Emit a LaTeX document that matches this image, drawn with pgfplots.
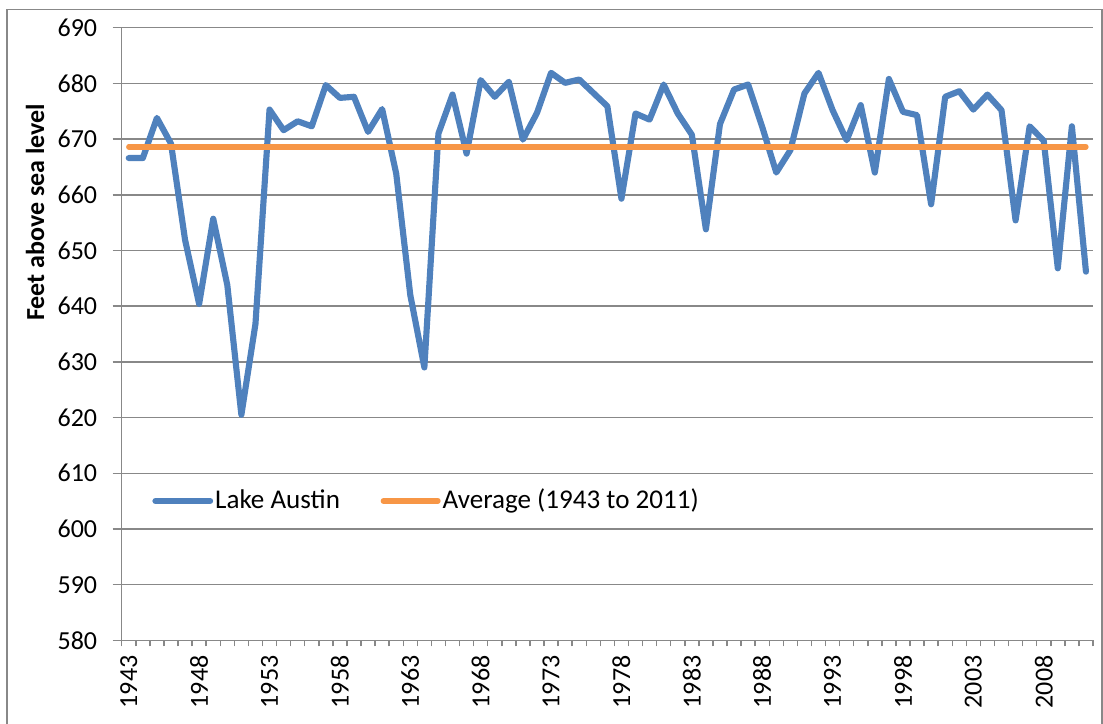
\documentclass[border=0pt]{standalone}
\usepackage{pgfplots}
\pgfplotsset{compat=1.18}
\usepackage{pgfplotstable}
\usepackage{fontspec}
\setmainfont{Carlito}

\definecolor{lakeblue}{HTML}{4F81BD}
\definecolor{avgorange}{HTML}{F79646}
\definecolor{gridgray}{HTML}{888888}

% Lake Austin yearly level, feet above sea level
\pgfplotstableread{
year level
1943 666.6
1944 666.6
1945 673.8
1946 669.2
1947 651.9
1948 640.4
1949 655.7
1950 643.8
1951 620.5
1952 636.8
1953 675.3
1954 671.6
1955 673.2
1956 672.3
1957 679.7
1958 677.4
1959 677.6
1960 671.3
1961 675.4
1962 663.8
1963 642.0
1964 629.0
1965 671.0
1966 678.0
1967 667.4
1968 680.6
1969 677.6
1970 680.3
1971 669.9
1972 674.7
1973 681.9
1974 680.1
1975 680.7
1976 678.3
1977 675.9
1978 659.3
1979 674.6
1980 673.5
1981 679.8
1982 674.6
1983 670.8
1984 653.8
1985 672.7
1986 678.9
1987 679.8
1988 672.2
1989 664.0
1990 668.0
1991 678.2
1992 681.9
1993 675.2
1994 669.8
1995 676.1
1996 664.0
1997 680.8
1998 674.9
1999 674.3
2000 658.3
2001 677.6
2002 678.6
2003 675.3
2004 678.0
2005 675.2
2006 655.4
2007 672.3
2008 669.7
2009 646.8
2010 672.3
2011 646.2
}\lakedata

\pgfplotstableread{
year level
1943 668.6
2011 668.6
}\avgdata

\begin{document}
\fontsize{19.5}{23}\selectfont
\begin{tikzpicture}
\useasboundingbox (-91.3pt,-62pt) rectangle (736pt,480.3pt);
% chart area border
\draw[gridgray, line width=1pt] (-86pt,-70pt) -- (-86pt,473.3pt) -- (735.2pt,473.3pt) -- (735.2pt,-70pt);
\begin{axis}[
    at={(0,0)}, anchor=south west,
    scale only axis,
    width=728.5pt, height=459.5pt,
    xmin=1942.5, xmax=2011.5,
    ymin=580, ymax=690,
    ytick={580,590,...,690},
    xtick={1943,1948,...,2008},
    minor xtick={1942.5,1943.5,...,2011.5},
    axis lines=left,
    axis line style={-, draw=gridgray, line width=1.1pt},
    ymajorgrids,
    grid style={draw=gridgray, line width=1.1pt},
    tick align=outside,
    tick style={draw=gridgray, line width=1.1pt},
    major tick length=6.75pt,
    minor tick length=4.5pt,
    major x tick style={draw=none},
    /pgf/number format/assume math mode=true,
    /pgf/number format/1000 sep={},
    xticklabel style={rotate=90, anchor=east, xshift=2pt},
    yticklabel style={anchor=east, xshift=-5pt},
    legend style={at={(rel axis cs:0,0.2275)}, anchor=west, xshift=22.8pt,
        draw=none, fill=none, inner sep=0pt, legend columns=2,
        font=\fontsize{20.3}{24}\selectfont,
        nodes={inner xsep=1.5pt},
        /tikz/every even column/.append style={column sep=29pt}},
    legend image code/.code={\draw[#1, line cap=round] (0pt,0pt) -- (41pt,0pt);},
    legend cell align=left,
]
\addplot[lakeblue, line width=4.6pt, line cap=round, line join=round] table[x=year, y=level] {\lakedata};
\addlegendentry{Lake Austin}
\addplot[avgorange, line width=4pt, line cap=round] table[x=year, y=level] {\avgdata};
\addlegendentry{Average (1943 to 2011)}
\end{axis}
\node[rotate=90, font=\bfseries] at (-65pt,321pt) {Feet above sea level};
\end{tikzpicture}
\end{document}
